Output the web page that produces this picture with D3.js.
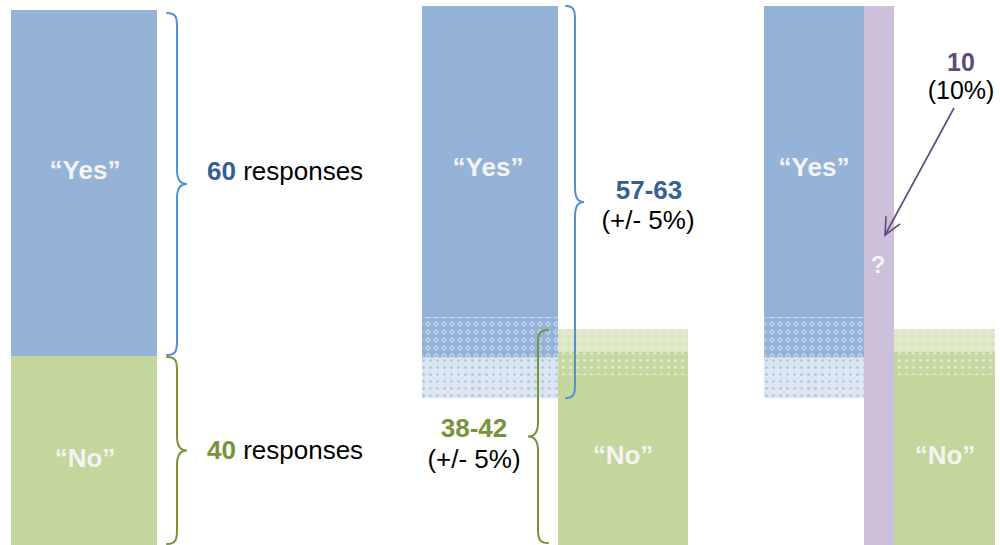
<!DOCTYPE html>
<html>
<head>
<meta charset="utf-8">
<script src="https://cdn.jsdelivr.net/npm/d3@7"></script>
<style>
  html, body { margin: 0; padding: 0; background: #fff; }
  svg { display: block; }
  text { font-family: Arial, "Liberation Sans", sans-serif; }
</style>
</head>
<body>
<svg id="chart" width="1000" height="545"></svg>
<script>
// ---- data ----
const categories = ["\u201CYes\u201D", "\u201CNo\u201D"];
const counts = [60, 40];                 // panel 1 responses
const yesBands = [0, 54, 61, 68];        // panel 2/3 yes: solid | cross | dotted
const noBands = [56, 60, 64, 100];       // panel 2/3 no: cross | dotted | solid
const rangeLabels = ["57-63", "38-42"];
const rangeNote = "(+/- 5%)";
const unknownCount = 10;
const unknownShare = "(10%)";
const totalResponses = 100;

// ---- setup ----
const svg = d3.select("#chart");
const y = d3.scaleLinear().domain([0, 60]).range([0, 346]);
const FS = 26;

const C = {
  blue: "#95B3D7", green: "#C3D69B", purple: "#CCC0DA",
  blueText: "#376092", greenText: "#77933C", purpleText: "#604A7B",
  blueBrace: "#558ED5", greenBrace: "#77933C", label: "#F4F4F4"
};

// patterns
const defs = svg.append("defs");
function crossPattern(id, base, light, line) {
  const p = defs.append("pattern").attr("id", id).attr("patternUnits", "userSpaceOnUse")
    .attr("width", 8).attr("height", 8);
  p.append("rect").attr("width", 8).attr("height", 8).attr("fill", base);
  p.append("path").attr("d", "M4,0.8 L7.2,4 L4,7.2 L0.8,4 Z").attr("fill", light).attr("opacity", 0.55);
  p.append("circle").attr("cx", 4).attr("cy", 4).attr("r", 0.9).attr("fill", line);
}
function dotPattern(id, base, dot) {
  const p = defs.append("pattern").attr("id", id).attr("patternUnits", "userSpaceOnUse")
    .attr("width", 7).attr("height", 7);
  p.append("rect").attr("width", 7).attr("height", 7).attr("fill", base);
  p.append("circle").attr("cx", 3.5).attr("cy", 3.5).attr("r", 1.3).attr("fill", dot);
}
crossPattern("blueCross", "#93B1D7", "#E4ECF6", "#86A7D2");
dotPattern("blueDots", "#DCE6F2", "#A9C1E1");
crossPattern("greenCross", "#DAE6C3", "#F3F7EA", "#C8DAA4");
dotPattern("greenDots", "#C6D8A1", "#E6EED6");

const blueFills = [C.blue, "url(#blueCross)", "url(#blueDots)"];
const greenFills = ["url(#greenCross)", "url(#greenDots)", C.green];

// curly brace
function brace(x0, y0, y1, w, color) {
  const v = x0 + w / 2, tip = x0 + w, ym = (y0 + y1) / 2, r = 14;
  const d = `M${x0},${y0} C${x0 + (v - x0) * 0.9},${y0} ${v},${y0 + r * 0.35} ${v},${y0 + r}` +
    ` L${v},${ym - r} C${v},${ym - r * 0.35} ${v + (tip - v) * 0.3},${ym} ${tip},${ym}` +
    ` C${v + (tip - v) * 0.3},${ym} ${v},${ym + r * 0.35} ${v},${ym + r}` +
    ` L${v},${y1 - r} C${v},${y1 - r * 0.35} ${x0 + (v - x0) * 0.9},${y1} ${x0},${y1}`;
  svg.append("path").attr("d", d).attr("fill", "none").attr("stroke", color)
    .attr("stroke-width", 2).attr("stroke-linecap", "round");
}

function label(x, yy, txt, opts) {
  const t = svg.append("text").attr("x", x).attr("y", yy).attr("text-anchor", "middle")
    .attr("font-size", opts.size || FS).attr("fill", opts.color).text(txt);
  if (opts.bold) t.attr("font-weight", "bold");
  return t;
}

// ---- panel 1 ----
const top1 = 10;
const p1 = [0, counts[0], counts[0] + counts[1]];
svg.selectAll(".p1bar").data(counts).enter().append("rect")
  .attr("x", 11).attr("width", 146)
  .attr("y", (d, i) => top1 + y(p1[i]))
  .attr("height", (d, i) => y(p1[i + 1]) - y(p1[i]))
  .attr("fill", (d, i) => i === 0 ? C.blue : C.green);

label(85, 179, categories[0], { bold: true, color: C.label });
label(85, 467, categories[1], { bold: true, color: C.label });

brace(167, top1 + y(0) + 3, top1 + y(p1[1]) - 1, 20, C.blueBrace);
brace(167, top1 + y(p1[1]) + 1, 544, 20, C.greenBrace);

[[180, 0, C.blueText], [459, 1, C.greenText]].forEach(([by, i, col]) => {
  const t = svg.append("text").attr("x", 207).attr("y", by).attr("font-size", FS);
  t.append("tspan").attr("font-weight", "bold").attr("fill", col).text(counts[i]);
  t.append("tspan").attr("fill", "#000").text(" responses");
});

// ---- panels 2 & 3 ----
const top2 = 6;
function bands(xs, w, bounds, fills) {
  for (let i = 0; i < bounds.length - 1; i++) {
    svg.append("rect").attr("x", xs).attr("width", w)
      .attr("y", top2 + y(bounds[i]))
      .attr("height", y(bounds[i + 1]) - y(bounds[i]))
      .attr("fill", fills[i]);
  }
}
// panel 2
bands(422, 136, yesBands, blueFills);
bands(558, 130, noBands, greenFills);
label(488, 176, categories[0], { bold: true, color: C.label });
label(623, 464, categories[1], { bold: true, color: C.label });

brace(566, top2 + y(yesBands[0]), top2 + y(yesBands[3]), 18, C.blueBrace);
brace(548, top2 + y(noBands[0]) + 1, 543, -20, C.greenBrace);

label(649, 199, rangeLabels[0], { bold: true, color: C.blueText });
label(648, 229, rangeNote, { color: "#000" });
label(474, 437, rangeLabels[1], { bold: true, color: C.greenText });
label(474, 468, rangeNote, { color: "#000" });

// panel 3
bands(764, 100, yesBands, blueFills);
bands(894, 101, noBands, greenFills);
svg.append("rect").attr("x", 864).attr("width", 30)
  .attr("y", top2 + y(0)).attr("height", y(totalResponses) - y(0)).attr("fill", C.purple);
label(814, 176, categories[0], { bold: true, color: C.label });
label(945, 464, categories[1], { bold: true, color: C.label });
label(878, 273, "?", { bold: true, color: C.label, size: 24 });

label(961, 71, unknownCount, { bold: true, color: C.purpleText, size: 25 });
label(961, 99, unknownShare, { color: "#000", size: 25 });

defs.append("marker").attr("id", "arrow").attr("markerUnits", "userSpaceOnUse")
  .attr("viewBox", "-20 -10 22 20").attr("refX", 0).attr("refY", 0)
  .attr("markerWidth", 22).attr("markerHeight", 20).attr("orient", "auto")
  .append("path").attr("d", "M-17,-8 L0,0 L-17,8").attr("fill", "none")
  .attr("stroke", C.purpleText).attr("stroke-width", 1.6);
svg.append("line").attr("x1", 954).attr("y1", 108).attr("x2", 885).attr("y2", 235)
  .attr("stroke", C.purpleText).attr("stroke-width", 1.6).attr("marker-end", "url(#arrow)");
</script>
</body>
</html>
